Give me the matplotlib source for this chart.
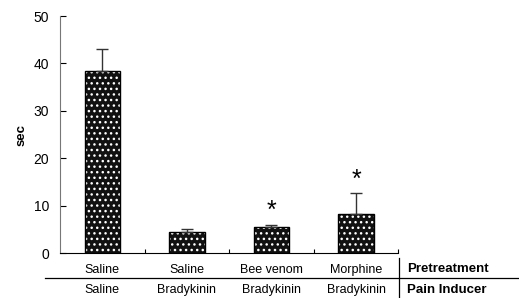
import numpy as np
import matplotlib.pyplot as plt
from matplotlib.transforms import blended_transform_factory

plt.rcParams['font.family'] = ['Liberation Sans', 'DejaVu Sans']
plt.rcParams['hatch.linewidth'] = 1.0

pretreatment = ['Saline', 'Saline', 'Bee venom', 'Morphine']
inducer = ['Saline', 'Bradykinin', 'Bradykinin', 'Bradykinin']
values = [38.5, 4.5, 5.5, 8.3]
errors = [4.5, 0.6, 0.5, 4.4]
significant = [False, False, True, True]

fig = plt.figure(figsize=(5.19, 2.98), dpi=100)
ax = fig.add_axes([0.1156, 0.151, 0.652, 0.795])

x = np.arange(len(values))
# dotted fill: black body with white hatch, then a black outline on top
ax.bar(x, values, width=0.42, color='#111111', edgecolor='white', hatch='...', linewidth=0)
ax.bar(x, values, width=0.42, fill=False, edgecolor='black', linewidth=1.0)
ax.errorbar(x, values, yerr=[np.zeros(len(errors)), errors], fmt='none',
            ecolor='#333333', elinewidth=1, capsize=4, capthick=1)

for xi, v, e, s in zip(x, values, errors, significant):
    if s:
        ax.text(xi, v + e + 0.3, '*', ha='center', va='bottom', fontsize=18)

ax.set_xlim(-0.5, 3.5)
ax.set_ylim(0, 50)
ax.set_yticks(range(0, 51, 10))
ax.set_xticks([0.5, 1.5, 2.5, 3.5])
ax.set_xticklabels([])
ax.tick_params(axis='y', direction='in', length=4, labelsize=10, pad=8)
ax.tick_params(axis='x', direction='in', length=3)
ax.spines['top'].set_visible(False)
ax.spines['right'].set_visible(False)
ax.spines['left'].set_color('#777777')
ax.set_ylabel('sec', fontsize=9.5, fontweight='bold', labelpad=4)

# label table under the axis
trans = blended_transform_factory(ax.transData, fig.transFigure)
for xi, p, q in zip(x, pretreatment, inducer):
    ax.text(xi, 0.094, p, transform=trans, ha='center', va='center', fontsize=9)
    ax.text(xi, 0.027, q, transform=trans, ha='center', va='center', fontsize=9)

fig.add_artist(plt.Line2D([0.087, 1.0], [0.068, 0.068], color='black', lw=0.9))
fig.add_artist(plt.Line2D([0.769, 0.769], [0.0, 0.134], color='black', lw=0.9))
fig.text(0.784, 0.098, 'Pretreatment', fontsize=9.5, fontweight='bold', va='center')
fig.text(0.784, 0.027, 'Pain Inducer', fontsize=9.5, fontweight='bold', va='center')

fig.savefig('out.png', dpi=100)
